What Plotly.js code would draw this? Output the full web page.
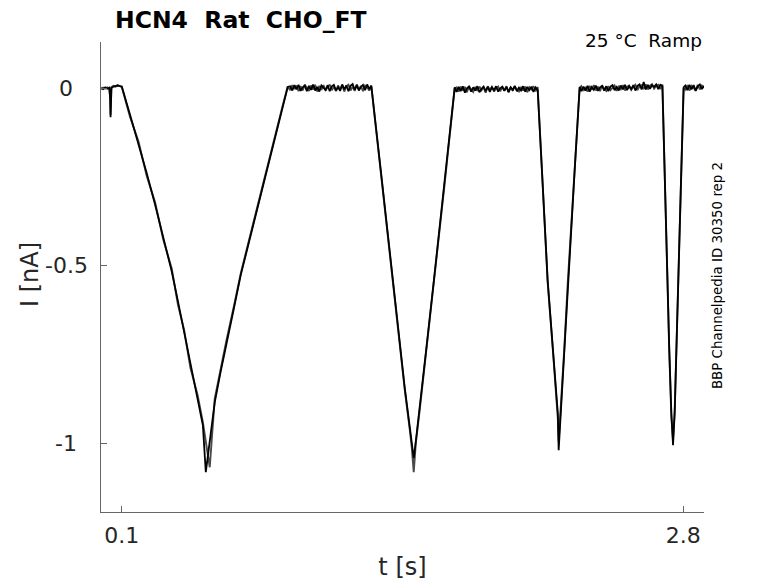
<!DOCTYPE html>
<html>
<head>
<meta charset="utf-8">
<script src="https://cdn.plot.ly/plotly-3.0.1.min.js"></script>
<style>
  html, body { margin: 0; padding: 0; background: #ffffff; }
  #chart { width: 778px; height: 583px; }
</style>
</head>
<body>
<div id="chart"></div>
<script>
// Current traces, two sweeps (A, B).
// Times in s, current in nA.

// pre-ramp hold with the short artefact at ~0.045 s
const tPre = [0.000, 0.010, 0.020, 0.030, 0.040, 0.044, 0.046, 0.048, 0.050, 0.060, 0.070, 0.080, 0.090, 0.100];
const preA = [0.000, -0.003, 0.002, -0.002, 0.001, -0.030, -0.082, -0.040, 0.000, 0.004, 0.006, 0.007, 0.005, 0.004];
const preB = [-0.003, 0.001, -0.002, 0.002, -0.001, -0.025, -0.075, -0.035, 0.002, 0.006, 0.004, 0.008, 0.006, 0.003];

// ramp 1 (0.1 - 0.9 s)
const tRamp1 = [0.14, 0.18, 0.22, 0.26, 0.30, 0.34, 0.37, 0.40, 0.43, 0.465, 0.49, 0.504,
                0.523, 0.547, 0.575, 0.605, 0.64, 0.672, 0.71, 0.75, 0.79, 0.83, 0.87, 0.898];
const ramp1A = [-0.076, -0.156, -0.240, -0.328, -0.420, -0.516, -0.600, -0.690, -0.778, -0.875, -0.950, -1.082,
                -0.990, -0.885, -0.800, -0.712, -0.618, -0.527, -0.437, -0.342, -0.248, -0.153, -0.062, 0.003];
const ramp1B = [-0.082, -0.150, -0.248, -0.322, -0.428, -0.508, -0.610, -0.682, -0.788, -0.866, -0.942, -1.000,
                -1.068, -0.875, -0.792, -0.706, -0.612, -0.522, -0.433, -0.338, -0.245, -0.150, -0.058, 0.004];

// hold 1 (0.9 - 1.3 s)
const tHold1 = [0.91, 0.92, 0.93, 0.94, 0.95, 0.96, 0.97, 0.98, 0.99, 1.00,
                1.01, 1.02, 1.03, 1.04, 1.05, 1.06, 1.07, 1.08, 1.09, 1.10,
                1.11, 1.12, 1.13, 1.14, 1.15, 1.16, 1.17, 1.18, 1.19, 1.20,
                1.21, 1.22, 1.23, 1.24, 1.25, 1.26, 1.27, 1.28, 1.29, 1.30];
const hold1A = [0.005, -0.007, 0.008, -0.004, 0.009, -0.008, 0.002, 0.007, -0.009, 0.006,
                -0.005, 0.010, -0.007, 0.003, -0.010, 0.007, 0.001, -0.006, 0.008, -0.009,
                0.005, 0.009, -0.007, 0.002, -0.008, 0.010, -0.004, 0.007, -0.009, 0.006,
                0.011, -0.005, 0.008, -0.007, 0.003, 0.009, -0.006, 0.010, -0.003, 0.007];
const hold1B = [-0.006, 0.008, -0.003, 0.007, -0.009, 0.005, -0.007, 0.009, 0.001, -0.008,
                0.007, -0.004, 0.009, -0.010, 0.006, -0.005, 0.008, -0.007, 0.002, 0.010,
                -0.006, 0.004, -0.009, 0.007, -0.003, 0.008, -0.010, 0.005, 0.009, -0.007,
                0.004, -0.008, 0.010, -0.004, 0.006, -0.009, 0.007, 0.002, -0.007, 0.005];

// ramp 2 (1.3 - 1.7 s)
const tRamp2 = [1.35, 1.398, 1.43, 1.461, 1.485, 1.495, 1.504, 1.514, 1.533, 1.57, 1.605, 1.65, 1.701];
const ramp2A = [-0.255, -0.515, -0.685, -0.845, -0.955, -1.000, -1.042, -0.995, -0.900, -0.705, -0.520, -0.280, 0.002];
const ramp2B = [-0.260, -0.521, -0.692, -0.851, -0.962, -1.015, -1.082, -1.000, -0.906, -0.711, -0.525, -0.284, -0.001];

// hold 2 (1.7 - 2.1 s)
const tHold2 = [1.71, 1.72, 1.73, 1.74, 1.75, 1.76, 1.77, 1.78, 1.79, 1.80,
                1.81, 1.82, 1.83, 1.84, 1.85, 1.86, 1.87, 1.88, 1.89, 1.90,
                1.91, 1.92, 1.93, 1.94, 1.95, 1.96, 1.97, 1.98, 1.99, 2.00,
                2.01, 2.02, 2.03, 2.04, 2.05, 2.06, 2.07, 2.08, 2.09, 2.10];
const hold2A = [-0.011, 0.003, -0.009, 0.005, -0.013, -0.001, 0.004, -0.010, 0.002, -0.007,
                0.005, -0.012, -0.002, 0.004, -0.009, 0.003, -0.011, 0.002, -0.006, 0.005,
                -0.010, -0.001, 0.004, -0.008, 0.003, -0.012, 0.002, -0.005, 0.006, -0.009,
                0.001, -0.007, 0.005, -0.010, 0.003, -0.006, 0.004, -0.011, 0.002, -0.005];
const hold2B = [0.002, -0.010, 0.004, -0.007, 0.003, -0.012, 0.005, -0.004, -0.011, 0.003,
                -0.008, 0.004, -0.006, 0.002, -0.013, 0.005, -0.005, 0.003, -0.010, -0.001,
                0.004, -0.009, 0.003, -0.007, 0.005, -0.011, 0.002, -0.008, 0.004, -0.005,
                -0.010, 0.003, -0.007, 0.004, -0.012, 0.002, -0.004, 0.005, -0.009, 0.003];

// ramp 3 (2.1 - 2.3 s)
const tRamp3 = [2.125, 2.148, 2.175, 2.197, 2.201, 2.211, 2.228, 2.245, 2.275, 2.302];
const ramp3A = [-0.280, -0.541, -0.748, -0.916, -1.020, -0.916, -0.729, -0.541, -0.262, 0.003];
const ramp3B = [-0.284, -0.546, -0.752, -0.930, -0.995, -0.905, -0.735, -0.546, -0.266, 0.000];

// hold 3 (2.3 - 2.7 s)
const tHold3 = [2.31, 2.32, 2.33, 2.34, 2.35, 2.36, 2.37, 2.38, 2.39, 2.40,
                2.41, 2.42, 2.43, 2.44, 2.45, 2.46, 2.47, 2.48, 2.49, 2.50,
                2.51, 2.52, 2.53, 2.54, 2.55, 2.56, 2.57, 2.58, 2.59, 2.60,
                2.61, 2.62, 2.63, 2.64, 2.65, 2.66, 2.67, 2.68, 2.69, 2.70];
const hold3A = [-0.009, 0.004, -0.007, 0.006, -0.010, 0.003, -0.005, 0.007, -0.008, 0.002,
                0.006, -0.007, 0.005, -0.009, 0.004, 0.008, -0.006, 0.003, -0.007, 0.007,
                -0.004, 0.009, -0.006, 0.005, -0.003, 0.008, -0.007, 0.006, 0.010, -0.004,
                0.017, -0.004, 0.009, -0.002, 0.008, 0.003, 0.010, -0.003, 0.009, 0.005];
const hold3B = [0.005, -0.008, 0.003, -0.010, 0.006, -0.005, 0.008, -0.007, 0.004, -0.009,
                0.007, -0.003, -0.008, 0.005, -0.006, 0.002, 0.007, -0.008, 0.006, -0.003,
                0.008, -0.007, 0.004, 0.007, -0.005, 0.003, 0.009, -0.006, 0.005, 0.008,
                -0.003, 0.010, -0.004, 0.007, 0.011, -0.002, 0.006, 0.009, -0.003, 0.010];

// ramp 4 (2.7 - 2.8 s)
const tRamp4 = [2.712, 2.722, 2.733, 2.743, 2.751, 2.759, 2.767, 2.775, 2.789, 2.802];
const ramp4A = [-0.283, -0.541, -0.737, -0.916, -1.006, -0.916, -0.728, -0.541, -0.270, 0.002];
const ramp4B = [-0.288, -0.546, -0.742, -0.925, -0.990, -0.910, -0.733, -0.546, -0.274, -0.001];

// final hold
const tHold4 = [2.81, 2.82, 2.83, 2.84, 2.85, 2.86, 2.87, 2.88, 2.89, 2.90];
const hold4A = [0.007, -0.006, 0.009, -0.004, 0.008, -0.007, 0.005, 0.010, -0.003, 0.006];
const hold4B = [-0.005, 0.008, -0.007, 0.006, 0.001, -0.008, 0.009, -0.004, 0.007, 0.002];

const xTicks = [0.1, 2.8];
const xTickText = ["0.1", "2.8"];
const yTicks = [-1, -0.5, 0];
const yTickText = ["-1", "-0.5", "0"];

const chartTitle = "HCN4\u00A0\u00A0Rat\u00A0\u00A0CHO_FT";
const condition = "25 \u00B0C\u00A0\u00A0Ramp";
const sourceNote = "BBP Channelpedia ID 30350 rep 2";
const yTitle = "I [nA]";

const tAll = [].concat(tPre, tRamp1, tHold1, tRamp2, tHold2, tRamp3, tHold3, tRamp4, tHold4);
const sweepA = [].concat(preA, ramp1A, hold1A, ramp2A, hold2A, ramp3A, hold3A, ramp4A, hold4A);
const sweepB = [].concat(preB, ramp1B, hold1B, ramp2B, hold2B, ramp3B, hold3B, ramp4B, hold4B);

const FONT = "DejaVu Sans, Liberation Sans, sans-serif";
const AXIS_GREY = "#666666";
const TEXT_GREY = "#262626";

const traces = [
    { x: tAll, y: sweepB, type: "scatter", mode: "lines", line: { color: "#4a4a4a", width: 1.9 }, hoverinfo: "skip" },
    { x: tAll, y: sweepA, type: "scatter", mode: "lines", line: { color: "#000000", width: 1.8 }, hoverinfo: "skip" }
];

// y tick labels are centred on a column left of the axis, as in the source figure
const yLabelNotes = yTicks.map((v, i) => ({
    text: yTickText[i], xref: "paper", yref: "y", x: -35 / 603, y: v,
    xanchor: "center", yanchor: "middle", showarrow: false,
    font: { family: FONT, size: 22, color: TEXT_GREY }
}));

const layout = {
    width: 778,
    height: 583,
    margin: { l: 101, r: 74, t: 42, b: 71 },
    paper_bgcolor: "#ffffff",
    plot_bgcolor: "#ffffff",
    showlegend: false,
    font: { family: FONT, color: TEXT_GREY },
    title: {
        text: chartTitle,
        font: { family: FONT, size: 23.5, color: "#000000", weight: 700 },
        x: 14 / 603, xanchor: "left", xref: "paper",
        y: 1 - 20 / 583, yanchor: "middle", yref: "container"
    },
    xaxis: {
        range: [0, 2.9],
        tickvals: xTicks, ticktext: xTickText,
        ticks: "inside", ticklen: 6, tickwidth: 1, tickcolor: AXIS_GREY,
        showline: true, linecolor: AXIS_GREY, linewidth: 1,
        showgrid: false, zeroline: false,
        tickfont: { family: FONT, size: 22, color: TEXT_GREY },
        ticklabelstandoff: 4,
        title: { text: "t [s]", font: { family: FONT, size: 24, color: TEXT_GREY }, standoff: 10 }
    },
    yaxis: {
        range: [-1.194, 0.1296],
        tickvals: yTicks,
        showticklabels: false,
        ticks: "inside", ticklen: 6, tickwidth: 1, tickcolor: AXIS_GREY,
        showline: true, linecolor: AXIS_GREY, linewidth: 1,
        showgrid: false, zeroline: false
    },
    annotations: yLabelNotes.concat([
        {
            text: yTitle, xref: "paper", yref: "paper", x: -71 / 603, y: (512 - 275) / 470,
            xanchor: "center", yanchor: "middle", textangle: -90, showarrow: false,
            font: { family: FONT, size: 24, color: TEXT_GREY }
        },
        {
            text: condition, xref: "paper", yref: "paper", x: 1, y: 1.004,
            xanchor: "right", yanchor: "middle", showarrow: false,
            font: { family: FONT, size: 18.5, color: "#000000" }
        },
        {
            text: sourceNote, xref: "paper", yref: "paper", x: 1.0216, y: 0.502,
            xanchor: "center", yanchor: "middle", textangle: -90, showarrow: false,
            font: { family: FONT, size: 13.4, color: "#000000" }
        }
    ])
};

Plotly.newPlot("chart", traces, layout, { displayModeBar: false, staticPlot: true });
</script>
</body>
</html>
